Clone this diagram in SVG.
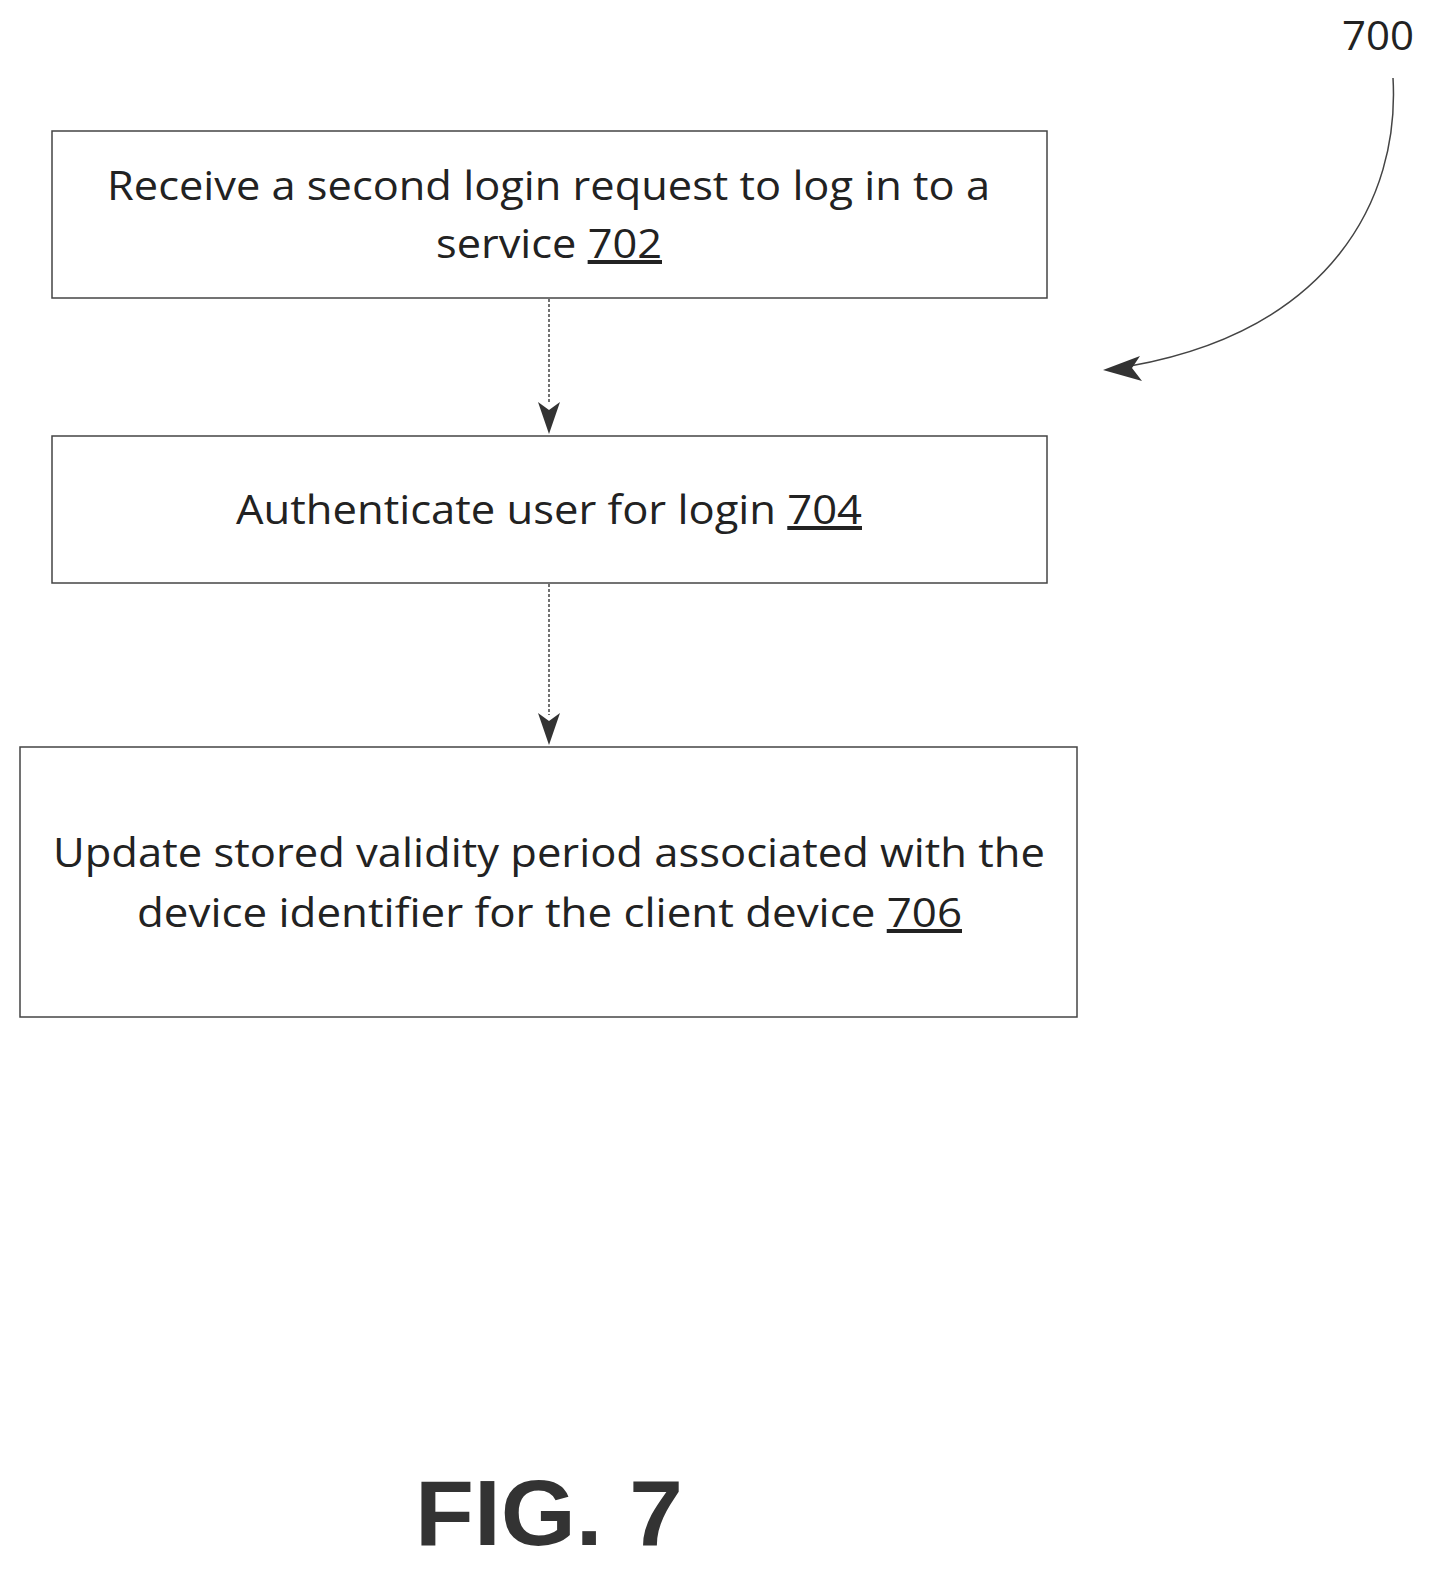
<svg xmlns="http://www.w3.org/2000/svg" width="1440" height="1574" viewBox="0 0 1440 1574">
<style>
.box{fill:#fff;stroke:#444;stroke-width:1.5}
.t{font-family:"Open Sans","Liberation Sans",sans-serif;font-size:40px;fill:#222}
.c{stroke:#444;stroke-width:1.5;fill:none}
</style>
<defs>
<marker id="ah" markerWidth="22" markerHeight="32" refX="11" refY="31" orient="auto-start-reverse" markerUnits="userSpaceOnUse" viewBox="0 0 22 32">
<path d="M0,0 L11,8 L22,0 L11,31 Z" fill="#333" transform="rotate(0)"/>
</marker>
</defs>
<rect width="1440" height="1574" fill="#fff"/>
<g id="n702">
<rect class="box" x="52" y="131" width="995" height="167"/>
<text class="t" x="107" y="200" textLength="883" lengthAdjust="spacingAndGlyphs">Receive a second login request to log in to a</text>
<text class="t" x="436" y="258" textLength="226" lengthAdjust="spacingAndGlyphs">service <tspan text-decoration="underline">702</tspan></text>
</g>
<g id="n704">
<rect class="box" x="52" y="436" width="995" height="147"/>
<text class="t" x="236" y="524" textLength="626" lengthAdjust="spacingAndGlyphs">Authenticate user for login <tspan text-decoration="underline">704</tspan></text>
</g>
<g id="n706">
<rect class="box" x="20" y="747" width="1057" height="270"/>
<text class="t" x="53" y="867" textLength="992" lengthAdjust="spacingAndGlyphs">Update stored validity period associated with the</text>
<text class="t" x="137" y="927" textLength="825" lengthAdjust="spacingAndGlyphs">device identifier for the client device <tspan text-decoration="underline">706</tspan></text>
</g>
<g id="connectors">
<path class="c" stroke-dasharray="3,2" d="M549,299 V404"/>
<path d="M538,402 L549,410 L560,402 L549,434 Z" fill="#333"/>
<path class="c" stroke-dasharray="3,2" d="M549,584 V715"/>
<path d="M538,713 L549,721 L560,713 L549,745 Z" fill="#333"/>
<path class="c" stroke-width="2" d="M1393,78 C1400,200 1330,330 1130,366"/>
<path d="M1103,370 L1140,356 L1132,368 L1142,381 Z" fill="#333"/>
</g>
<g id="labels">
<text x="1342" y="50" font-family="Open Sans,Liberation Sans,sans-serif" font-size="40" fill="#222" textLength="72" lengthAdjust="spacingAndGlyphs">700</text>
<text x="415" y="1545" font-family="Liberation Sans,Arial,sans-serif" font-weight="bold" font-size="92" fill="#333" textLength="268" lengthAdjust="spacingAndGlyphs">FIG. 7</text>
</g>
</svg>
